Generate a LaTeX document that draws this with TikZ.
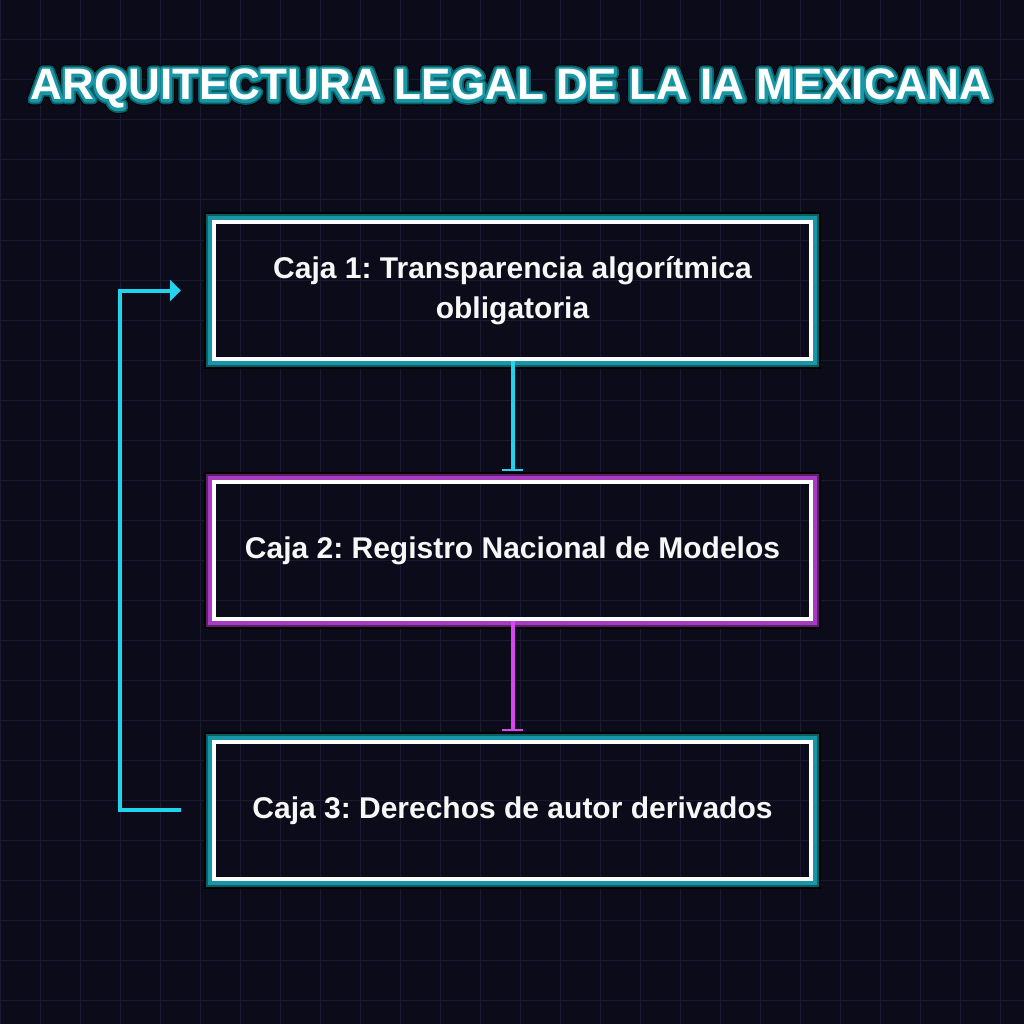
\documentclass[tikz,border=0pt]{standalone}
\usepackage{fontspec}
\setmainfont{Liberation Sans}
\newfontfamily\titlefont{Liberation Sans Bold}
\newfontfamily\glowA[FakeBold=12]{Liberation Sans Bold}
\newfontfamily\glowB[FakeBold=20]{Liberation Sans Bold}
\newfontfamily\glowC[FakeBold=24]{Liberation Sans Bold}
\usetikzlibrary{arrows.meta}
\definecolor{bg}{HTML}{0B0B1A}
\definecolor{gridc}{HTML}{1B1A30}
\definecolor{cyanl}{HTML}{22D3EE}
\definecolor{magl}{HTML}{D946EF}
\definecolor{tealA}{HTML}{1796A6}
\definecolor{tealB}{HTML}{0D5C66}
\definecolor{purA}{HTML}{A83CC0}
\definecolor{purB}{HTML}{5E1E6E}
\definecolor{txt}{HTML}{F7F7F7}
\tikzset{
  box/.style={draw=white, line width=4pt, minimum width=597pt, minimum height=137pt,
    inner sep=0pt, outer sep=0pt, text=txt, font=\bfseries\fontsize{30}{40}\selectfont, align=center},
  cyanarrow/.style={draw=cyanl, line width=4pt},
  magarrow/.style={draw=magl, line width=4pt},
  ttl/.style={anchor=base},
}
\frenchspacing
\begin{document}
\begin{tikzpicture}[x=1pt,y=-1pt]
\fill[bg] (0,0) rectangle (1024,1024);
\useasboundingbox (0,0) rectangle (1024,1024);
\foreach \i in {0,40,...,1000} {
  \draw[gridc, line width=1pt] (\i,0) -- (\i,1024);
  \draw[gridc, line width=1pt] (0,\i) -- (1024,\i);
}
% title
\begin{scope}[line join=round, line cap=round]
\node[ttl, text=black, font=\glowC\fontsize{44}{50}\selectfont] (tc) at (511,100) {ARQUITECTURA LEGAL DE LA IA MEXICANA};
\node[ttl, text=tealB, font=\glowB\fontsize{44}{50}\selectfont] (tb) at (511,100) {ARQUITECTURA LEGAL DE LA IA MEXICANA};
\node[ttl, text=tealA, font=\glowA\fontsize{44}{50}\selectfont] (ta) at (511,100) {ARQUITECTURA LEGAL DE LA IA MEXICANA};
\node[ttl, text=white, font=\titlefont\fontsize{44}{50}\selectfont] (title) at (511,100) {ARQUITECTURA LEGAL DE LA IA MEXICANA};
\end{scope}
% boxes
\node[box] (box1) at (512.5,290.5) {Caja 1: Transparencia algorítmica\\obligatoria};
\node[box] (box2) at (512.5,550.5) {Caja 2: Registro Nacional de Modelos};
\node[box] (box3) at (512.5,810.5) {Caja 3: Derechos de autor derivados};
% glows
\foreach \b/\ca/\cb in {box1/tealA/tealB, box2/purA/purB, box3/tealA/tealB} {
  \draw[\ca, line width=4pt] ([shift={(-4,-4)}]\b.north west) rectangle ([shift={(4,4)}]\b.south east);
  \draw[\cb, line width=2pt] ([shift={(-7,-7)}]\b.north west) rectangle ([shift={(7,7)}]\b.south east);
  \draw[black, line width=2pt] ([shift={(-9,-9)}]\b.north west) rectangle ([shift={(9,9)}]\b.south east);
}
% connectors
\draw[cyanarrow, -{Bar[width=21pt,line width=2pt]}] ([yshift=-2pt]box1.south) -- ([yshift=11pt]box2.north);
\draw[magarrow, -{Bar[width=21pt,line width=2pt]}] ([yshift=-2pt]box2.south) -- ([yshift=11pt]box3.north);
\coordinate (l3) at (181,810);
\coordinate (l1) at (181,290.5);
\draw[cyanarrow, -{Triangle[length=11pt,width=21pt]}] (l3) -- (120,810) -- (120,290.5) -- (l1);
\end{tikzpicture}
\end{document}
